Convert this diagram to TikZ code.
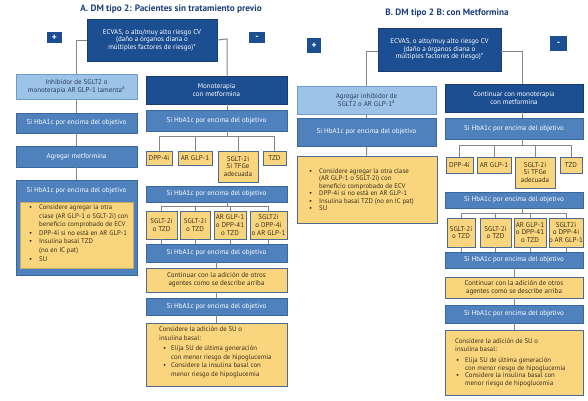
\documentclass[tikz,border=0pt]{standalone}
\usepackage{fontspec}
\setmainfont{PT Sans}
\usetikzlibrary{calc}
\definecolor{navy}{HTML}{1B3E78}
\definecolor{dkblue}{HTML}{1C4E92}
\definecolor{dkborder}{HTML}{163C72}
\definecolor{mdblue}{HTML}{4F81BD}
\definecolor{mdborder}{HTML}{3A679E}
\definecolor{ltblue}{HTML}{9DC3E6}
\definecolor{ltborder}{HTML}{6F9DCB}
\definecolor{lttext}{HTML}{2C3E5C}
\definecolor{yel}{HTML}{F9D67E}
\definecolor{ylborder}{HTML}{4D6A92}
\definecolor{yltext}{HTML}{3B2F1E}
\definecolor{conngray}{HTML}{858585}
\tikzset{
 base/.style={inner sep=0pt, align=center, font=\fontsize{7}{7.6}\selectfont, line width=0.6pt},
 dk/.style={base, fill=dkblue, draw=dkborder, text=white},
 md/.style={base, fill=mdblue, draw=mdborder, text=white},
 lt/.style={base, fill=ltblue, draw=ltborder, text=lttext},
 yl/.style={base, fill=yel, draw=ylborder, text=yltext},
 ylin/.style={base, fill=yel, draw=yel!80!black},
 conn/.style={draw=conngray, line width=1pt},
 sign/.style={fill=dkblue, text=white, font=\bfseries\fontsize{9.5}{9.5}\selectfont, inner sep=0pt},
 ttl/.style={text=navy, font=\bfseries\fontsize{9.2}{10}\selectfont, inner sep=0pt},
 lst/.style={anchor=north west, inner sep=0pt, align=left, text=yltext},
 plain/.style={inner sep=0pt, text=white, font=\fontsize{7}{7.6}\selectfont},
}
\newcommand\mybox[7]{%
 \pgfmathsetmacro\bxw{#5-#3}\pgfmathsetmacro\bxh{#6-#4}%
 \node[#2, minimum width=\bxw pt, minimum height=\bxh pt] (#1) at ({(#3+#5)/2},{(#4+#6)/2}) {#7};}
\newcommand\bu{\makebox[10pt][l]{\textbullet}}
\newcommand\ind{\hspace*{10pt}}
\begin{document}
\begin{tikzpicture}[x=1pt,y=-1pt]
\useasboundingbox (0,0) rectangle (588,400);
\fill[white] (0,0) rectangle (588,400);
% ---------- Panel A ----------
\node[ttl] (titA) at (171,9) {A. DM tipo 2: Pacientes sin tratamiento previo};
\mybox{plusA}{sign}{47}{32}{62}{43}{+}
\mybox{minusA}{sign}{249}{32}{265}{43}{-}
\mybox{ecvA}{dk}{87}{19}{217}{61}{ECVAS, o alto/muy alto riesgo CV\\(daño a órganos diana o\\múltiples factores de riesgo)*}
\mybox{inhA}{lt}{16}{74}{137}{99}{Inhibidor de SGLT2 o\\monoterapia AR GLP-1 lamenta\textsuperscript{a}}
\mybox{siA1}{md}{16}{113}{137}{133}{Si HbA1c por encima del objetivo}
\mybox{agrA}{md}{16}{146}{137}{167}{Agregar metformina}
\mybox{bigA}{md}{16}{180}{137}{275}{}
\node[plain] (bigAt) at (76.5,191) {Si HbA1c por encima del objetivo};
\mybox{yA}{ylin}{20}{202}{133}{268}{}
\node[lst, font=\fontsize{6.8}{8.6}\selectfont] (lA) at (29,204.5) {\bu Considere agregar la otra\\
\ind clase (AR GLP-1 o SGLT-2i) con\\
\ind beneficio comprobado de ECV\\
\bu DPP-4i si no está en AR GLP-1\\
\bu Insulina basal TZD\\
\ind (no en IC pat)\\
\bu SU};
\mybox{monoA}{dk}{146}{76}{287}{104}{Monoterapia\\con metformina}
\mybox{siA2}{md}{146}{110}{287}{131}{Si HbA1c por encima del objetivo}
\mybox{aa1}{yl}{146}{151}{172}{165}{DPP-4i}
\mybox{aa2}{yl}{178}{151}{212}{165}{AR GLP-1}
\mybox{aa3}{yl}{218}{151}{258}{182}{SGLT-2i\\Si TFGe\\adecuada}
\mybox{aa4}{yl}{263}{151}{286}{165}{TZD}
\mybox{siA3}{md}{146}{186}{287}{202}{Si HbA1c por encima del objetivo}
\mybox{ab1}{yl}{146}{211}{177}{239}{SGLT-2i\\o TZD}
\mybox{ab2}{yl}{180}{211}{210}{239}{SGLT-2i\\o TZD}
\mybox{ab3}{yl}{214}{211}{246}{239}{AR GLP-1\\o DPP-41\\o TZD}
\mybox{ab4}{yl}{250}{211}{287}{239}{SGLT2i\\o DPP-4i\\o AR GLP-1}
\mybox{siA4}{md}{146}{244}{287}{262}{Si HbA1c por encima del objetivo}
\mybox{contA}{yl}{146}{268}{287}{292}{Continuar con la adición de otros\\agentes como se describe arriba}
\mybox{siA5}{md}{146}{298}{287}{315}{Si HbA1c por encima del objetivo}
\mybox{consA}{yl}{146}{323}{287}{386}{}
\node[lst, font=\fontsize{6.8}{8.5}\selectfont] (lcA) at (159,326.5) {Considere la adición de SU o\\
insulina basal:\\[2pt]
\hspace*{4pt}\makebox[8pt][l]{\textbullet}Elija SU de última generación\\
\hspace*{12pt}con menor riesgo de hipoglucemia\\
\hspace*{4pt}\makebox[8pt][l]{\textbullet}Considere la insulina basal con\\
\hspace*{12pt}menor riesgo de hipoglucemia};
% connectors A
\coordinate (tA0) at (227,39);
\coordinate (tA1) at (227,136);
\coordinate (tA2) at (227,206);
\draw[conn] (ecvA.west) -| (inhA.north);
\draw[conn] (ecvA.east) -- (tA0) -- (tA0 |- monoA.north);
\draw[conn] (inhA) -- (siA1);
\draw[conn] (siA1) -- (agrA);
\draw[conn] (agrA) -- (bigA);
\draw[conn] (monoA.south -| tA0) -- (siA2.north -| tA0);
\draw[conn] (siA2.south -| tA1) -- (tA1);
\draw[conn] (aa1.north) -- (aa1.north |- tA1) -- (aa4.north |- tA1) -- (aa4.north);
\draw[conn] (aa2.north) -- (aa2.north |- tA1);
\draw[conn] (aa3.north) -- (aa3.north |- tA1);
\draw[conn] (siA3.south -| tA2) -- (tA2);
\draw[conn] (ab1.north) -- (ab1.north |- tA2) -- (ab4.north |- tA2) -- (ab4.north);
\draw[conn] (ab2.north) -- (ab2.north |- tA2);
\draw[conn] (ab3.north) -- (ab3.north |- tA2);
\foreach \n in {ab1,ab2,ab3,ab4} \draw[conn] (\n.south) -- (\n.south |- siA4.north);
\draw[conn] (siA4) -- (contA);
\draw[conn] (contA) -- (siA5);
\draw[conn] (siA5) -- (consA);
% ---------- Panel B ----------
\node[ttl] (titB) at (447,13) {B. DM tipo 2 B: con Metformina};
\mybox{plusB}{sign}{307}{38}{321}{53}{+}
\mybox{minusB}{sign}{550}{36}{567}{51}{-}
\mybox{ecvB}{dk}{378}{28}{501}{71}{ECVAS, o alto/muy alto riesgo CV\\(daño a órganos diana o\\múltiples factores de riesgo)*}
\mybox{agrB}{lt}{297}{86}{436}{114}{Agregar inhibidor de\\SGLT2 o AR GLP-1\textsuperscript{a}}
\mybox{siB1}{md}{297}{118}{436}{146}{Si HbA1c por encima del objetivo}
\mybox{yB}{yl}{297}{156}{437}{223}{}
\node[lst, font=\fontsize{6.8}{7.4}\selectfont] (lB) at (309,168.5) {\bu Considere agregar la otra clase\\
\ind (AR GLP-1 o SGLT-2i) con\\
\ind beneficio comprobado de ECV\\
\bu DPP-4i si no está en AR GLP-1\\
\bu Insulina basal TZD (no en IC pat)\\
\bu SU};
\mybox{contmB}{dk}{445}{84}{583}{112}{Continuar con monoterapia\\con metformina}
\mybox{siB2}{md}{445}{118}{583}{139}{Si HbA1c por encima del objetivo}
\mybox{ba1}{yl}{446}{157}{473}{173}{DPP-4i}
\mybox{ba2}{yl}{477}{157}{511}{173}{AR GLP-1}
\mybox{ba3}{yl}{515}{157}{555}{188}{SGLT-2i\\Si TFGe\\adecuada}
\mybox{ba4}{yl}{560}{157}{582}{173}{TZD}
\mybox{siB3}{md}{445}{192}{583}{208}{Si HbA1c por encima del objetivo}
\mybox{bb1}{yl}{447}{218}{475}{247}{SGLT-2i\\o TZD}
\mybox{bb2}{yl}{480}{218}{511}{247}{SGLT-2i\\o TZD}
\mybox{bb3}{yl}{514}{218}{546}{247}{AR GLP-1\\o DPP-41\\o TZD}
\mybox{bb4}{yl}{549}{218}{583}{247}{SGLT2i\\o DPP-4i\\o AR GLP-1}
\mybox{siB4}{md}{445}{252}{583}{268}{Si HbA1c por encima del objetivo}
\mybox{contB}{yl}{445}{277}{583}{298}{Continuar con la adición de otros\\agentes como se describe arriba}
\mybox{siB5}{md}{445}{305}{583}{323}{Si HbA1c por encima del objetivo}
\mybox{consB}{yl}{445}{330}{583}{395}{}
\node[lst, font=\fontsize{6.8}{7.8}\selectfont] (lcB) at (455,338.5) {Considere la adición de SU o\\
insulina basal:\\[3pt]
\hspace*{1pt}\makebox[9pt][l]{\textbullet}Elija SU de última generación\\
\hspace*{10pt}con menor riesgo de hipoglucemia\\
\hspace*{1pt}\makebox[9pt][l]{\textbullet}Considere la insulina basal con\\
\hspace*{10pt}menor riesgo de hipoglucemia};
% connectors B
\coordinate (tB0) at (522,51);
\coordinate (tB1) at (522,145);
\coordinate (tB2) at (522,213);
\draw[conn] (ecvB.west |- tB0) -| (agrB.north);
\draw[conn] (ecvB.east |- tB0) -- (tB0) -- (tB0 |- contmB.north);
\draw[conn] (agrB) -- (siB1);
\draw[conn] (siB1) -- (yB);
\draw[conn] (contmB.south -| tB0) -- (siB2.north -| tB0);
\draw[conn] (siB2.south -| tB1) -- (tB1);
\draw[conn] (ba1.north) -- (ba1.north |- tB1) -- (ba4.north |- tB1) -- (ba4.north);
\draw[conn] (ba2.north) -- (ba2.north |- tB1);
\draw[conn] (ba3.north) -- (ba3.north |- tB1);
\draw[conn] (siB3.south -| tB2) -- (tB2);
\draw[conn] (bb1.north) -- (bb1.north |- tB2) -- (bb4.north |- tB2) -- (bb4.north);
\draw[conn] (bb2.north) -- (bb2.north |- tB2);
\draw[conn] (bb3.north) -- (bb3.north |- tB2);
\foreach \n in {bb1,bb2,bb3,bb4} \draw[conn] (\n.south) -- (\n.south |- siB4.north);
\draw[conn] (siB4) -- (contB);
\draw[conn] (contB) -- (siB5);
\draw[conn] (siB5) -- (consB);
\end{tikzpicture}
\end{document}
